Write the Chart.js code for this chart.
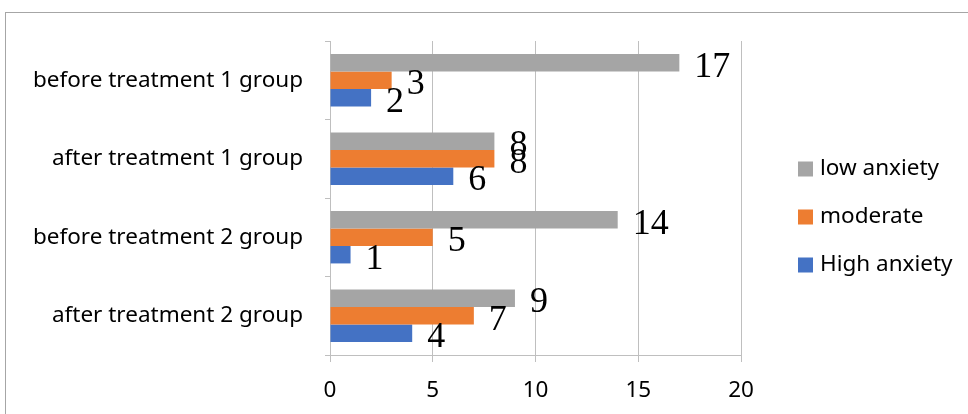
<!DOCTYPE html>
<html>
<head>
<meta charset="utf-8">
<script src="https://cdn.jsdelivr.net/npm/chart.js@4/dist/chart.umd.min.js"></script>
<style>
  html, body { margin: 0; padding: 0; background: #fff; }
  #wrap { position: relative; width: 968px; height: 414px; overflow: hidden; }
  #frame { position: absolute; left: 5px; top: 12px; width: 1000px; height: 500px;
           border-left: 1px solid #a6a6a6; border-top: 1px solid #a6a6a6; }
  canvas { position: absolute; left: 0; top: 0; }
</style>
</head>
<body>
<div id="wrap">
  <div id="frame"></div>
  <canvas id="chart" width="968" height="414"></canvas>
</div>
<script>
// categories, top to bottom
const groups = ['before treatment 1 group', 'after treatment 1 group', 'before treatment 2 group', 'after treatment 2 group'];
// series values
const lowAnxiety = [17, 8, 14, 9];
const moderate = [3, 8, 5, 7];
const highAnxiety = [2, 6, 1, 4];
const xTicks = [0, 5, 10, 15, 20];

const axisFont = "'Noto Sans', Lato, sans-serif";
const lineColor = '#bfbfbf';

// numbers at the bar ends, serif like the original
const barLabels = {
  id: 'barLabels',
  afterDatasetsDraw(chart) {
    const ctx = chart.ctx;
    ctx.save();
    ctx.font = "36px 'Liberation Serif', 'Times New Roman', serif";
    ctx.fillStyle = '#000';
    ctx.textAlign = 'left';
    ctx.textBaseline = 'alphabetic';
    chart.data.datasets.forEach((ds, i) => {
      chart.getDatasetMeta(i).data.forEach((bar, j) => {
        ctx.fillText(ds.data[j], bar.x + 15, bar.y + 14);
      });
    });
    ctx.restore();
  }
};

// legend on the right, drawn by hand to sit where the original has it
const sideLegend = {
  id: 'sideLegend',
  afterDraw(chart) {
    const ctx = chart.ctx;
    ctx.save();
    ctx.font = '22.5px ' + axisFont;
    ctx.textBaseline = 'middle';
    chart.data.datasets.forEach((ds, i) => {
      const y = 169 + i * 48;
      ctx.fillStyle = ds.backgroundColor;
      ctx.fillRect(798, y - 7.5, 15, 15);
      ctx.fillStyle = '#000';
      ctx.fillText(ds.label, 820, y);
    });
    ctx.restore();
  }
};

new Chart(document.getElementById('chart'), {
  type: 'bar',
  data: {
    labels: groups,
    datasets: [
      { label: 'low anxiety', data: lowAnxiety, backgroundColor: '#a5a5a5' },
      { label: 'moderate', data: moderate, backgroundColor: '#ed7d31' },
      { label: 'High anxiety', data: highAnxiety, backgroundColor: '#4472c4' }
    ]
  },
  options: {
    indexAxis: 'y',
    responsive: false,
    animation: false,
    categoryPercentage: 0.667,
    barPercentage: 1,
    layout: { padding: { top: 41, right: 227, left: 0, bottom: 0 } },
    plugins: {
      legend: { display: false },
      tooltip: { enabled: false }
    },
    scales: {
      x: {
        min: 0,
        max: 20,
        afterBuildTicks: (s) => { s.ticks = xTicks.map(v => ({ value: v })); },
        afterFit: (s) => { s.height = 59; },
        grid: { color: lineColor, tickLength: 7, drawTicks: true },
        border: { color: lineColor },
        ticks: { color: '#000', padding: 15, font: { family: axisFont, size: 22.5 } }
      },
      y: {
        afterFit: (s) => { s.width = 330; },
        grid: { drawOnChartArea: false, color: lineColor, tickLength: 5, offset: true },
        border: { color: lineColor },
        ticks: { color: '#000', padding: 22, font: { family: axisFont, size: 22.5 } }
      }
    }
  },
  plugins: [barLabels, sideLegend]
});
</script>
</body>
</html>
